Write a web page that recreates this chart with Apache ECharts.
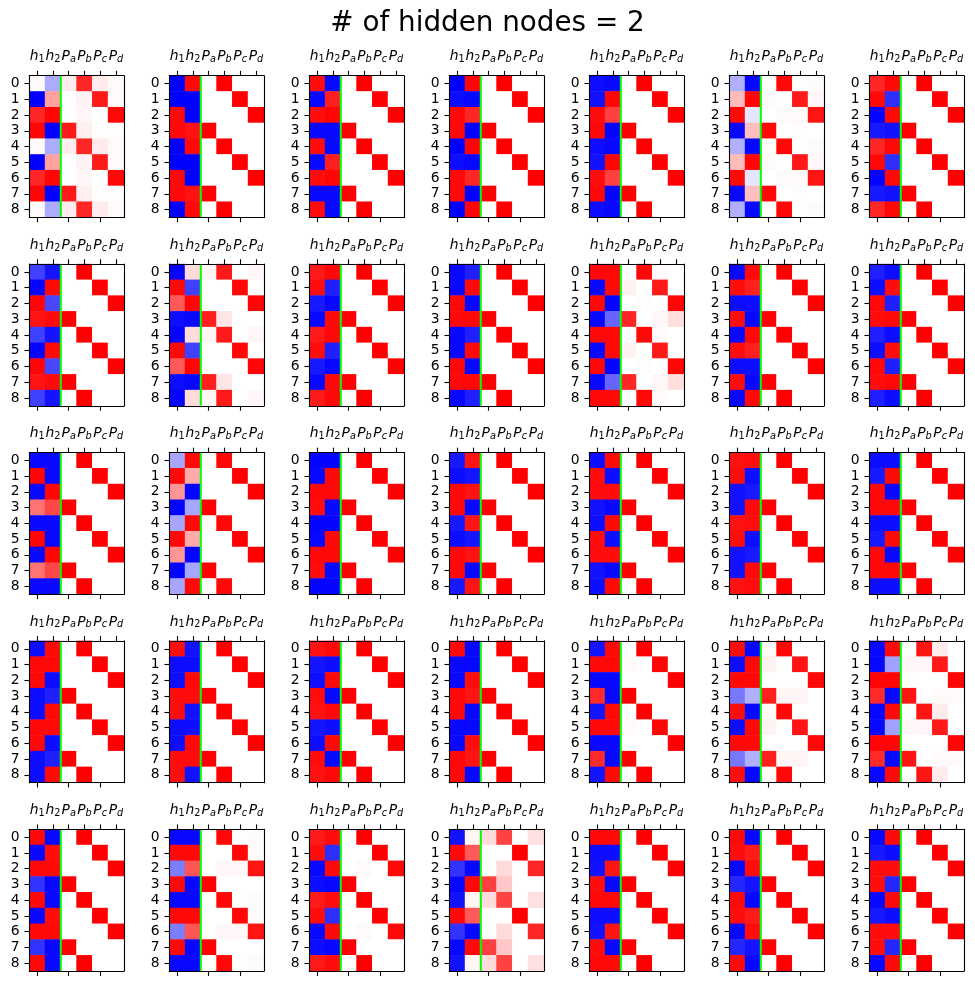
<!DOCTYPE html>
<html><head><meta charset="utf-8">
<script src="https://cdn.jsdelivr.net/npm/echarts@6/dist/echarts.min.js"></script>
<style>html,body{margin:0;padding:0;background:#fff}#c{width:975px;height:985px}</style>
</head><body><div id="c"></div>
<script>
const chartTitle = '# of hidden nodes = 2';
const colLabels = ['h1','h2','Pa','Pb','Pc','Pd'];
const rowLabels = ['0','1','2','3','4','5','6','7','8'];
const separatorAt = 1.5;

const h1Values = [
 [0.02,-1,0.85,0.98,0.02,-1,0.85,0.98,0.02],
 [-1,-1,0.97,0.97,-1,-1,0.97,0.97,-1],
 [0.95,-0.97,0.95,-0.97,0.95,-0.97,0.95,-0.97,0.95],
 [-1,-0.95,0.97,0.97,-1,-0.95,0.97,0.97,-1],
 [-0.95,-0.93,0.95,0.97,-0.95,-0.93,0.95,0.97,-0.95],
 [-0.31,0.27,0.97,-0.97,-0.31,0.27,0.97,-0.97,-0.31],
 [0.85,0.97,-0.98,-0.9,0.85,0.97,-0.98,-0.9,0.85],
 [-0.75,-0.98,0.98,0.92,-0.75,-0.98,0.98,0.92,-0.75],
 [-0.98,0.97,0.65,-0.95,-0.98,0.97,0.65,-0.95,-0.98],
 [0.9,0.95,-0.9,-0.97,0.9,0.95,-0.9,-0.97,0.9],
 [-0.97,-0.97,0.97,0.97,-0.97,-0.97,0.97,0.97,-0.97],
 [0.97,-0.97,0.97,-0.97,0.97,-0.97,0.97,-0.97,0.97],
 [-0.97,0.95,-0.95,0.95,-0.97,0.95,-0.95,0.95,-0.97],
 [-0.88,-0.95,0.97,0.95,-0.88,-0.95,0.97,0.95,-0.88],
 [-0.97,0.98,-0.97,0.55,-0.97,0.98,-0.97,0.55,-0.97],
 [-0.35,0.97,0.41,-0.98,-0.35,0.97,0.41,-0.98,-0.35],
 [-0.98,-0.97,0.97,0.95,-0.98,-0.97,0.97,0.95,-0.98],
 [-0.9,-0.95,0.97,0.97,-0.9,-0.95,0.97,0.97,-0.9],
 [-0.95,0.95,0.95,-0.93,-0.95,0.95,0.95,-0.93,-0.95],
 [0.93,0.95,-0.93,-0.93,0.93,0.95,-0.93,-0.93,0.93],
 [-0.95,-0.9,0.97,0.97,-0.95,-0.9,0.97,0.97,-0.95],
 [-0.95,0.97,0.97,-0.95,-0.95,0.97,0.97,-0.95,-0.95],
 [0.95,-0.95,-0.95,0.95,0.95,-0.95,-0.95,0.95,0.95],
 [0.93,-0.92,-0.95,0.95,0.93,-0.92,-0.95,0.95,0.93],
 [0.97,-0.97,-0.97,0.97,0.97,-0.97,-0.97,0.97,0.97],
 [-0.92,0.97,-0.97,0.83,-0.92,0.97,-0.97,0.83,-0.92],
 [0.95,-0.95,0.97,-0.53,0.95,-0.95,0.97,-0.53,0.95],
 [-0.97,-0.97,0.98,0.83,-0.97,-0.97,0.98,0.83,-0.97],
 [0.97,-0.97,0.97,-0.8,0.97,-0.97,0.97,-0.8,0.97],
 [-0.97,0.97,-0.51,0.97,-0.97,0.97,-0.51,0.97,-0.97],
 [0.9,0.95,-0.97,-0.95,0.9,0.95,-0.97,-0.95,0.9],
 [-0.93,0.97,-0.8,-0.97,-0.93,0.97,-0.8,-0.97,-0.93],
 [0.97,-0.95,-0.93,0.95,0.97,-0.95,-0.93,0.95,0.97],
 [0.97,0.95,-0.97,-0.85,0.97,0.95,-0.97,-0.85,0.97],
 [-0.97,-0.9,0.95,0.95,-0.97,-0.9,0.95,0.95,-0.97]
];

const h2Values = [
 [-0.33,0.37,0.98,-1,-0.33,0.37,0.98,-1,-0.33],
 [0.97,-1,-1,0.93,0.97,-1,-1,0.93,0.97],
 [-0.97,0.88,0.98,-0.97,-0.97,0.88,0.98,-0.97,-0.97],
 [0.98,-0.97,0.85,-1,0.98,-0.97,0.85,-1,0.98],
 [-0.97,0.98,0.75,-0.98,-0.97,0.98,0.75,-0.98,-0.97],
 [-0.97,0.98,-0.1,0.25,-0.97,0.98,-0.1,0.25,-0.97],
 [0.97,-0.82,0.97,-0.93,0.97,-0.82,0.97,-0.93,0.97],
 [-0.92,0.97,-0.72,0.96,-0.92,0.97,-0.72,0.96,-0.92],
 [0.14,-0.75,0.98,-0.97,0.14,-0.75,0.98,-0.97,0.14],
 [0.97,-0.88,-0.97,0.97,0.97,-0.88,-0.97,0.97,0.97],
 [-0.88,0.97,-0.97,0.97,-0.88,0.97,-0.97,0.97,-0.88],
 [0.97,0.97,-0.98,-0.6,0.97,0.97,-0.98,-0.6,0.97],
 [0.97,0.88,-0.95,-0.97,0.97,0.88,-0.95,-0.97,0.97],
 [-0.95,0.95,-0.88,0.97,-0.95,0.95,-0.88,0.97,-0.95],
 [-0.97,-0.97,0.98,0.72,-0.97,-0.97,0.98,0.72,-0.97],
 [0.97,0.33,-0.98,-0.35,0.97,0.33,-0.98,-0.35,0.97],
 [-0.98,0.97,0.97,-0.97,-0.98,0.97,0.97,-0.97,-0.98],
 [0.92,-0.92,0.93,-0.97,0.92,-0.92,0.93,-0.97,0.92],
 [0.97,-0.95,0.95,-0.97,0.97,-0.95,0.95,-0.97,0.97],
 [0.95,-0.95,-0.9,0.97,0.95,-0.95,-0.9,0.97,0.95],
 [-0.95,0.97,-0.97,0.97,-0.95,0.97,-0.97,0.97,-0.95],
 [0.97,0.97,-0.95,-0.88,0.97,0.97,-0.95,-0.88,0.97],
 [-0.93,-0.95,0.97,0.95,-0.93,-0.95,0.97,0.95,-0.93],
 [0.97,-0.95,0.97,-0.97,0.97,-0.95,0.97,-0.97,0.97],
 [-0.97,-0.97,0.95,0.92,-0.97,-0.97,0.95,0.92,-0.97],
 [0.97,0.97,-0.97,-0.97,0.97,0.97,-0.97,-0.97,0.97],
 [-0.97,0.97,0.97,-0.31,-0.97,0.97,0.97,-0.31,-0.97],
 [0.97,-0.37,0.98,-0.97,0.97,-0.37,0.98,-0.97,0.97],
 [-0.97,0.95,0.97,-0.97,-0.97,0.95,0.97,-0.97,-0.97],
 [-0.97,0.97,0.67,-0.97,-0.97,0.97,0.67,-0.97,-0.97],
 [0.95,-0.82,0.97,-0.97,0.95,-0.82,0.97,-0.97,0.95],
 [0.04,0.65,-0.97,0.97,0.04,0.65,-0.97,0.97,0.04],
 [0.97,-0.95,0.92,-0.97,0.97,-0.95,0.92,-0.97,0.97],
 [-0.97,0.9,0.95,-0.92,-0.97,0.9,0.95,-0.92,-0.97],
 [0.97,-0.95,0.95,-0.85,0.97,-0.95,0.95,-0.85,0.97]
];

// output probabilities per row: [Pa, Pb, Pc, Pd]
const pSharp = [[0,1,0,0],[0,0,1,0],[0,0,0,1],[1,0,0,0],[0,1,0,0],[0,0,1,0],[0,0,0,1],[1,0,0,0],[0,1,0,0]];
const pPanel1 = [[0.07,0.85,0.08,0.02],[0,0.05,0.9,0.02],[0,0.03,0,0.97],[0.9,0.06,0.01,0.01],[0.07,0.85,0.08,0.02],[0,0.05,0.9,0.02],[0,0.03,0,0.97],[0.9,0.06,0.01,0.01],[0.07,0.85,0.08,0.02]];
const pPanel6 = [[0.01,0.97,0,0.02],[0.02,0,0.9,0.03],[0,0.02,0.02,0.92],[0.97,0,0.01,0],[0.01,0.97,0,0.02],[0.02,0,0.9,0.03],[0,0.02,0.02,0.92],[0.97,0,0.01,0],[0.01,0.97,0,0.02]];
const pPanel9 = [[0.04,0.9,0,0.03],[0,0,0.97,0],[0,0,0,0.98],[0.88,0.1,0,0],[0.04,0.9,0,0.03],[0,0,0.97,0],[0,0,0,0.98],[0.88,0.1,0,0],[0.04,0.9,0,0.03]];
const pPanel12 = [[0,0.97,0.02,0],[0.05,0,0.9,0],[0,0.01,0,0.98],[0.85,0,0.03,0.13],[0,0.97,0.02,0],[0.05,0,0.9,0],[0,0.01,0,0.98],[0.85,0,0.03,0.13],[0,0.97,0.02,0]];
const pPanel16 = [[0.02,0.97,0,0],[0,0,1,0],[0,0,0,1],[1,0,0,0],[0.02,0.97,0,0],[0,0,1,0],[0,0,0,1],[1,0,0,0],[0.02,0.97,0,0]];
const pPanel26 = [[0,1,0,0],[0.02,0,0.98,0],[0,0,0,1],[1,0,0,0],[0,1,0,0],[0.02,0,0.98,0],[0,0,0,1],[1,0,0,0],[0,1,0,0]];
const pPanel27 = [[0.02,0.97,0,0],[0.05,0,0.92,0],[0,0,0,0.97],[0.88,0.04,0.04,0],[0.02,0.97,0,0],[0.05,0,0.92,0],[0,0,0,0.97],[0.88,0.04,0.04,0],[0.02,0.97,0,0]];
const pPanel28 = [[0,0.92,0.08,0],[0.03,0.03,0.9,0],[0,0,0,0.98],[0.92,0,0.02,0.02],[0,0.92,0.08,0],[0.03,0.03,0.9,0],[0,0,0,0.98],[0.92,0,0.02,0.02],[0,0.92,0.08,0]];
const pPanel30 = [[0,0.97,0,0.02],[0,0,0.97,0.02],[0,0.03,0.03,0.92],[1,0,0,0],[0,0.97,0,0.02],[0,0,0.97,0.02],[0,0.03,0.03,0.92],[1,0,0,0],[0,0.97,0,0.02]];
const pPanel31 = [[0,1,0,0],[0,0,1,0],[0,0.02,0,0.97],[1,0,0,0],[0,1,0,0],[0,0,1,0],[0,0.02,0,0.97],[1,0,0,0],[0,1,0,0]];
const pPanel32 = [[0.14,0.74,0,0.12],[0,0,1,0],[0,0.14,0,0.85],[0.75,0.22,0,0],[0.14,0.74,0,0.12],[0,0,1,0],[0,0.14,0,0.85],[0.75,0.22,0,0],[0.14,0.74,0,0.12]];
const pValues = [
 pPanel1, pSharp, pSharp, pSharp, pSharp, pPanel6, pSharp,
 pSharp, pPanel9, pSharp, pSharp, pPanel12, pSharp, pSharp,
 pSharp, pPanel16, pSharp, pSharp, pSharp, pSharp, pSharp,
 pSharp, pSharp, pSharp, pSharp, pPanel26, pPanel27, pPanel28,
 pSharp, pPanel30, pPanel31, pPanel32, pSharp, pSharp, pSharp
];

const FONT = 'DejaVu Sans';
const nCols = 7;
const L0 = 29.3, T0 = 75.7, DX = 140, DY = 188.4, W = 94.5, H = 141.75;
const TICK = 4.86;
const spine = {show: true, onZero: false, lineStyle: {color: '#000', width: 1.1}};
const tick = {show: true, alignWithLabel: true, length: TICK, lineStyle: {color: '#000', width: 1.1}};
const rich = {
  i: {fontFamily: FONT, fontStyle: 'italic', fontSize: 13.9, color: '#000'},
  n: {fontFamily: FONT, fontSize: 9.7, color: '#000', padding: [6, 0, 0, 0]},
  s: {fontFamily: FONT, fontStyle: 'italic', fontSize: 9.7, color: '#000', padding: [6, 0, 0, 0]}
};
function fmtLabel(v) {
  const sub = v.slice(1);
  return '{i|' + v[0] + '}{' + (/\d/.test(sub) ? 'n' : 's') + '|' + sub + '}';
}

const grid = [], xAxis = [], yAxis = [], series = [], heatIdx = [];
for (let k = 0; k < h1Values.length; k++) {
  const r = Math.floor(k / nCols), c = k % nCols;
  grid.push({left: L0 + DX * c, top: T0 + DY * r, width: W, height: H});
  const xi = xAxis.length, yi = yAxis.length;
  xAxis.push({gridIndex: k, type: 'category', position: 'top', data: colLabels, z: 5,
    axisLine: spine, axisTick: tick, splitLine: {show: false},
    axisLabel: {interval: 0, hideOverlap: false, margin: 11, formatter: fmtLabel, rich: rich}});
  xAxis.push({gridIndex: k, type: 'category', position: 'bottom', data: colLabels, z: 5,
    axisLine: spine, axisTick: tick, splitLine: {show: false}, axisLabel: {show: false}});
  xAxis.push({gridIndex: k, type: 'value', show: false, min: -0.5, max: colLabels.length - 0.5});
  yAxis.push({gridIndex: k, type: 'category', position: 'left', inverse: true, data: rowLabels, z: 5,
    axisLine: spine, axisTick: tick, splitLine: {show: false},
    axisLabel: {interval: 0, margin: 9.7, fontFamily: FONT, fontSize: 13.9, color: '#000'}});
  yAxis.push({gridIndex: k, type: 'category', position: 'right', inverse: true, data: rowLabels, z: 5,
    axisLine: spine, axisTick: {show: false}, axisLabel: {show: false}, splitLine: {show: false}});
  yAxis.push({gridIndex: k, type: 'value', show: false, inverse: true, min: -0.5, max: rowLabels.length - 0.5});

  const data = [];
  for (let i = 0; i < rowLabels.length; i++) {
    data.push([0, i, h1Values[k][i]]);
    data.push([1, i, h2Values[k][i]]);
    for (let j = 0; j < 4; j++) data.push([2 + j, i, pValues[k][i][j]]);
  }
  heatIdx.push(series.length);
  series.push({type: 'heatmap', xAxisIndex: xi, yAxisIndex: yi, data: data, z: 2,
    silent: true, progressive: 0, emphasis: {disabled: true}, itemStyle: {borderWidth: 0}});
  series.push({type: 'line', xAxisIndex: xi + 2, yAxisIndex: yi + 2, z: 3, silent: true,
    symbol: 'none', animation: false,
    data: [[separatorAt, -0.5], [separatorAt, rowLabels.length - 0.5]],
    lineStyle: {color: '#00ff00', width: 2}});
}

const chart = echarts.init(document.getElementById('c'), null, {renderer: 'canvas'});
chart.setOption({
  animation: false,
  backgroundColor: '#fff',
  title: {text: chartTitle, left: 'center', top: 5,
    textStyle: {fontFamily: FONT, fontSize: 27.8, fontWeight: 'normal', color: '#000'}},
  visualMap: {type: 'continuous', show: false, min: -1, max: 1, seriesIndex: heatIdx,
    inRange: {color: ['#0000ff', '#ffffff', '#ff0000']}},
  grid: grid, xAxis: xAxis, yAxis: yAxis, series: series
});
</script>
</body></html>
